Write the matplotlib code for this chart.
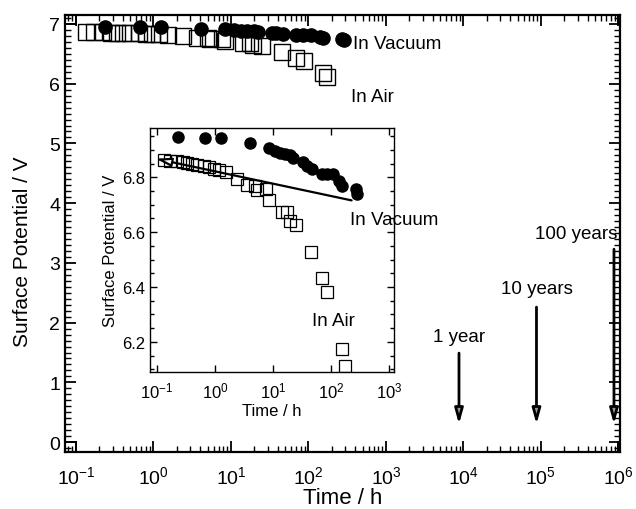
import matplotlib
matplotlib.use("Agg")
import matplotlib.pyplot as plt
from matplotlib.patches import Rectangle
from matplotlib.ticker import LogLocator, MultipleLocator, NullFormatter
import numpy as np

plt.rcParams['font.family'] = ['Liberation Sans', 'DejaVu Sans']
plt.rcParams['mathtext.fontset'] = 'custom'
plt.rcParams['mathtext.rm'] = 'Liberation Sans'
plt.rcParams['mathtext.it'] = 'Liberation Sans:italic'
plt.rcParams['mathtext.bf'] = 'Liberation Sans:bold'

# in vacuum (filled circles)
t_vac = [0.235, 0.675, 1.25, 4.1, 8.4, 11, 13.4, 16.3, 19.9, 22, 33.6, 38.4,
         46.8, 69.5, 84.6, 107, 140, 153, 269, 284]
v_vac = [6.948, 6.942, 6.942, 6.924, 6.908, 6.896, 6.890, 6.886, 6.880, 6.872,
         6.856, 6.841, 6.832, 6.811, 6.811, 6.811, 6.787, 6.768, 6.756, 6.738]

# in air (open squares)
t_air = [0.134, 0.17, 0.22, 0.287, 0.336, 0.41, 0.5, 0.65, 0.79, 0.96, 1.17,
         1.53, 2.42, 3.6, 5.0, 5.3, 7.7, 8.4, 14.3, 17.5, 19.4, 25.2, 45,
         69.5, 86.7, 153, 175]
v_air = [6.862, 6.860, 6.858, 6.856, 6.853, 6.847, 6.844, 6.841, 6.837, 6.832,
         6.827, 6.821, 6.793, 6.771, 6.768, 6.753, 6.756, 6.716, 6.674, 6.674,
         6.641, 6.625, 6.526, 6.432, 6.383, 6.175, 6.112]

# lifetime marks (hours)
life_t = [8760, 87600, 876000]
life_lab = ['1 year', '10 years', '100 years']
life_top = [1.49, 2.26, 3.23]
life_txt = [1.76, 2.57, 3.49]
arrow_tip = 0.3

fig = plt.figure(figsize=(6.36, 5.10), dpi=100)
ax = fig.add_axes([0.1022, 0.1124, 0.8726, 0.8562])

ax.plot(t_air, v_air, 's', ms=11, mfc='none', mec='black', mew=1.0)
ax.plot(t_vac, v_vac, 'o', ms=9.5, mfc='black', mec='black')

ax.set_xscale('log')
xl = (0.0721, 1.047e6)
yl = (-0.16, 7.15)
ax.set_xlim(*xl)
ax.set_ylim(*yl)
ax.xaxis.set_major_locator(LogLocator(base=10, numticks=20))
ax.xaxis.set_minor_locator(LogLocator(base=10, subs=np.arange(2, 10), numticks=20))
ax.xaxis.set_minor_formatter(NullFormatter())
ax.yaxis.set_major_locator(MultipleLocator(1))
ax.yaxis.set_minor_locator(MultipleLocator(0.1))
ax.tick_params(which='both', direction='in', top=True, right=True, labelsize=14)
ax.tick_params(which='major', length=8, width=1.3)
ax.tick_params(which='minor', length=4, width=1.0)
ax.tick_params(axis='x', pad=10)
for s in ax.spines.values():
    s.set_linewidth(1.6)
ax.set_xlabel('Time / h', fontsize=16, labelpad=0)
ax.set_ylabel('Surface Potential / V', fontsize=15)
ax.yaxis.set_label_coords(-0.06, 0.46)

# small corner boxes of the frame
for x0, x1 in [(xl[0], 0.1), (1e6, xl[1])]:
    for y0, y1 in [(yl[0], 0), (7, yl[1])]:
        ax.add_patch(Rectangle((x0, y0), x1 - x0, y1 - y0, fill=False,
                               ec='black', lw=1.3, clip_on=False))

ax.text(376, 6.67, 'In Vacuum', fontsize=13.5, va='center')
ax.text(355, 5.79, 'In Air', fontsize=13.5, va='center')

for t, lab, top, ty in zip(life_t, life_lab, life_top, life_txt):
    ax.annotate('', xy=(t, arrow_tip), xytext=(t, top),
                arrowprops=dict(arrowstyle='-|>,head_length=0.9,head_width=0.25',
                                lw=2, fc='0.6', ec='black', shrinkA=0, shrinkB=0))
    if lab == '100 years':
        ax.text(t * 1.1, ty, lab, fontsize=13.5, ha='right', va='center')
    else:
        ax.text(t, ty, lab, fontsize=13.5, ha='center', va='center')

# inset
ins = fig.add_axes([0.2358, 0.2686, 0.3837, 0.4784])
ins.plot(t_air, v_air, 's', ms=8, mfc='none', mec='black', mew=0.9)
ins.plot(t_vac, v_vac, 'o', ms=8, mfc='black', mec='black')
ins.annotate('', xy=(0.096, 6.868), xytext=(227, 6.716),
             arrowprops=dict(arrowstyle='-|>,head_length=0.9,head_width=0.25',
                             lw=1.6, fc='white', ec='black', shrinkA=0, shrinkB=0))
ins.set_xscale('log')
ins.set_xlim(0.076, 1.22e3)
ins.set_ylim(6.09, 6.98)
ins.xaxis.set_major_locator(LogLocator(base=10, numticks=10))
ins.xaxis.set_minor_locator(LogLocator(base=10, subs=[], numticks=10))
ins.yaxis.set_major_locator(MultipleLocator(0.2))
ins.yaxis.set_minor_locator(MultipleLocator(0.05))
ins.tick_params(which='both', direction='in', top=True, right=True, labelsize=12)
ins.tick_params(which='major', length=5, width=1.0)
ins.tick_params(which='minor', length=3, width=1.0)
ins.tick_params(axis='x', pad=6)
for s in ins.spines.values():
    s.set_linewidth(1.0)
ins.set_xlabel('Time / h', fontsize=12, labelpad=2)
ins.set_ylabel('Surface Potential / V', fontsize=12, labelpad=3)
ins.text(213, 6.647, 'In Vacuum', fontsize=13.5, va='center')
ins.text(46.8, 6.277, 'In Air', fontsize=13.5, va='center')

fig.savefig('out.png', dpi=100)
